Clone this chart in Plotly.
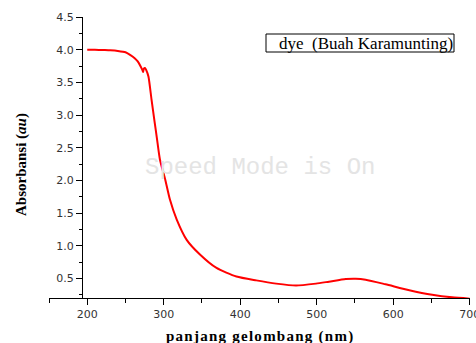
import plotly.graph_objects as go

wavelength = [200, 210, 220, 230, 240, 250, 256, 262, 266, 270, 272, 273, 274, 275.5, 277,
              280, 284, 288, 291, 295, 302, 308, 317, 330, 347, 369, 395, 421, 447, 473,
              499, 516, 538, 551, 564, 590, 621, 651, 677, 700]
absorbance = [4.00, 4.00, 3.995, 3.99, 3.98, 3.96, 3.92, 3.87, 3.82, 3.74, 3.69, 3.66, 3.71, 3.72, 3.69,
              3.59, 3.24, 2.90, 2.65, 2.32, 2.01, 1.71, 1.40, 1.09, 0.87, 0.66, 0.53, 0.47, 0.42, 0.39,
              0.42, 0.45, 0.49, 0.495, 0.48, 0.41, 0.32, 0.25, 0.21, 0.19]
series_name = "dye  (Buah Karamunting)"
x_ticks = [200, 300, 400, 500, 600, 700]
y_ticks = [0.5, 1.0, 1.5, 2.0, 2.5, 3.0, 3.5, 4.0, 4.5]
x_title = "panjang gelombang (nm)"
y_title = "<b>Absorbansi (<i>au</i>)</b>"

L, R, T, B = 49, 470, 17, 298
W, H = 476, 343


def px_x(p):
    return (p - L) / (R - L)


def px_y(p):
    return (B - p) / (B - T)


fig = go.Figure()
fig.add_trace(go.Scatter(x=wavelength, y=absorbance, mode="lines",
                         line=dict(color="#ff0000", width=2, shape="spline", smoothing=0.6),
                         name=series_name, showlegend=False, cliponaxis=True))

tickfont = dict(family="DejaVu Sans", size=11, color="#333333")
spaced_title = "\u200a".join(x_title)
fig.update_layout(
    width=W, height=H,
    margin=dict(l=L, r=W - R, t=T, b=H - B, autoexpand=False),
    paper_bgcolor="white", plot_bgcolor="white",
    xaxis=dict(range=[150, 700.4], tickvals=x_ticks, ticktext=[str(v) for v in x_ticks],
               ticklabeloverflow="allow", automargin=False,
               ticks="outside", ticklen=6, tickcolor="black", showline=True, linecolor="black",
               linewidth=1, showgrid=False, zeroline=False, tickfont=tickfont,
               minor=dict(dtick=50, tick0=0, ticks="outside", ticklen=4, tickcolor="black")),
    yaxis=dict(range=[0.2, 4.5], tickvals=y_ticks, ticktext=[f"{v:.1f}" for v in y_ticks],
               anchor="free", position=px_x(82), ticklabeloverflow="allow", automargin=False,
               ticks="outside", ticklen=6, tickcolor="black", showline=True, linecolor="black",
               linewidth=1, showgrid=False, zeroline=False, tickfont=tickfont,
               minor=dict(dtick=0.25, tick0=0, ticks="outside", ticklen=3, tickcolor="black")),
    shapes=[dict(type="rect", xref="paper", yref="paper",
                 x0=px_x(266), x1=px_x(454), y0=px_y(52), y1=px_y(34),
                 line=dict(color="black", width=1), fillcolor="rgba(0,0,0,0)")],
    annotations=[
        dict(text=series_name, xref="paper", yref="paper", x=px_x(277), y=px_y(43),
             xanchor="left", yanchor="middle", showarrow=False,
             font=dict(family="Liberation Serif", size=17, color="black")),
        dict(text="Speed Mode is On", xref="paper", yref="paper", x=px_x(260),
             y=px_y(167), xanchor="center", yanchor="middle", showarrow=False,
             font=dict(family="Liberation Mono", size=24, color="#e4e4e4")),
        dict(text="<b>" + spaced_title + "</b>", xref="paper", yref="paper", x=px_x(259),
             y=px_y(336), xanchor="center", yanchor="middle", showarrow=False,
             font=dict(family="Liberation Serif", size=15, color="black")),
        dict(text=y_title, xref="paper", yref="paper", x=px_x(21), y=px_y(165),
             xanchor="center", yanchor="middle", showarrow=False, textangle=-90,
             font=dict(family="Liberation Serif", size=15, color="black")),
    ],
)

fig.write_html("out.html")
